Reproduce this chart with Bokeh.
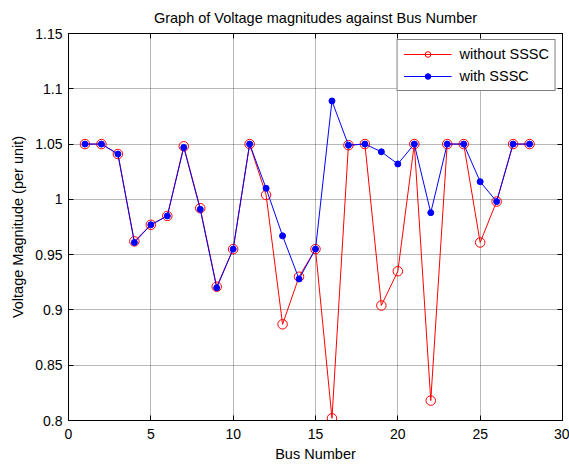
from bokeh.plotting import figure
from bokeh.models import Range1d, FixedTicker, NumeralTickFormatter, LinearAxis, CustomLabelingPolicy
from bokeh.embed import file_html
from bokeh.resources import INLINE

bus = list(range(1, 29))
without_sssc = [1.050, 1.050, 1.041, 0.962, 0.977, 0.985, 1.048, 0.992, 0.921, 0.955,
                1.050, 1.004, 0.887, 0.930, 0.955, 0.802, 1.049, 1.050, 0.904, 0.935,
                1.050, 0.818, 1.050, 1.050, 0.961, 0.998, 1.050, 1.050]
with_sssc = [1.050, 1.050, 1.041, 0.961, 0.977, 0.985, 1.047, 0.991, 0.920, 0.955,
             1.050, 1.010, 0.967, 0.928, 0.955, 1.089, 1.049, 1.050, 1.043, 1.032,
             1.050, 0.988, 1.050, 1.050, 1.016, 0.998, 1.050, 1.050]
x_ticks = [0, 5, 10, 15, 20, 25, 30]
y_ticks = [0.8, 0.85, 0.9, 0.95, 1.0, 1.05, 1.1, 1.15]

FONT = "Liberation Sans"

p = figure(width=569, height=464, output_backend="svg", toolbar_location=None,
           x_range=Range1d(0, 30), y_range=Range1d(0.8, 1.15),
           min_border_left=68, min_border_right=7, min_border_top=33, min_border_bottom=42,
           title="Graph of Voltage magnitudes against Bus Number")
p.title.text_font = FONT
p.title.text_font_size = "14.5px"
p.title.text_font_style = "normal"
p.title.align = "center"
p.title.text_color = "black"
p.title.standoff = 15

p.background_fill_color = "white"
p.border_fill_color = "white"
p.outline_line_color = "black"
p.outline_line_width = 1

for ax in [p.xaxis[0], p.yaxis[0]]:
    ax.major_tick_in = 5
    ax.major_tick_out = 0
    ax.minor_tick_line_color = None
    ax.axis_line_color = "black"
    ax.major_tick_line_color = "black"
    ax.major_label_text_font = FONT
    ax.major_label_text_font_size = "14px"
    ax.major_label_text_color = "black"
    ax.axis_label_text_font = FONT
    ax.axis_label_text_font_size = "14.5px"
    ax.axis_label_text_font_style = "normal"
    ax.axis_label_text_color = "black"

p.xaxis.ticker = FixedTicker(ticks=x_ticks)
p.yaxis.ticker = FixedTicker(ticks=y_ticks)
p.yaxis.formatter = NumeralTickFormatter(format="0.[00]")
p.xaxis.axis_label = "Bus Number"
p.yaxis.axis_label = "Voltage Magnitude (per unit)"
p.xaxis.major_label_standoff = 8
p.xaxis.axis_label_standoff = 4
p.yaxis.major_label_standoff = 6
p.yaxis.axis_label_standoff = 6

no_labels = CustomLabelingPolicy(code="return new Set()")
for loc, tk in [("right", y_ticks), ("above", x_ticks)]:
    ax = LinearAxis(ticker=FixedTicker(ticks=tk), major_label_policy=no_labels,
                    major_label_text_font_size="0px",
                    major_label_standoff=0, major_tick_in=5, major_tick_out=0,
                    minor_tick_line_color=None, axis_line_color="black",
                    major_tick_line_color="black")
    p.add_layout(ax, loc)

p.xgrid.ticker = FixedTicker(ticks=x_ticks)
p.ygrid.ticker = FixedTicker(ticks=y_ticks)
p.grid.grid_line_color = "#333333"
p.grid.grid_line_alpha = 0.7
p.grid.grid_line_dash = "1 1"
p.grid.grid_line_width = 1

p.line(bus, without_sssc, line_color="#ff0000", line_width=1, legend_label="without SSSC")
p.scatter(bus, without_sssc, marker="circle", size=9.5, fill_color=None,
          line_color="#ff0000", line_width=1, legend_label="without SSSC")
p.line(bus, with_sssc, line_color="#0000ff", line_width=1, legend_label="with SSSC")
p.scatter(bus, with_sssc, marker="circle", size=6, fill_color="#0000ff",
          line_color="#0000ff", legend_label="with SSSC")

lg = p.legend[0]
lg.location = "top_right"
lg.margin = 6
lg.padding = 6
lg.spacing = 6
lg.glyph_width = 48
lg.glyph_height = 14
lg.label_height = 14
lg.label_standoff = 8
lg.label_text_font = FONT
lg.label_text_font_size = "14.5px"
lg.label_text_color = "black"
lg.border_line_color = "black"
lg.border_line_width = 1
lg.background_fill_color = "white"
lg.background_fill_alpha = 1.0

open("out.html", "w").write(file_html(p, INLINE))
